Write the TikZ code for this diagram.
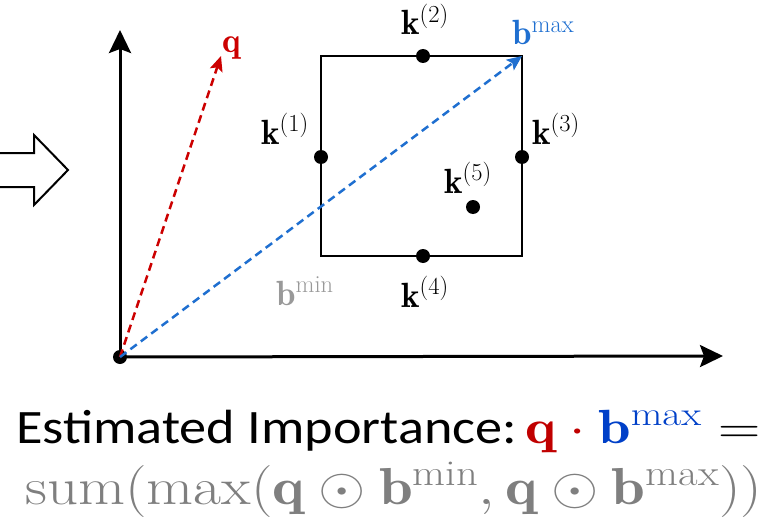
\RequirePackage{fix-cm}
\documentclass[tikz,border=0pt]{standalone}
\usepackage{fontspec}
\usepackage{graphicx}
\newfontfamily\calibri{Carlito}
\usetikzlibrary{arrows.meta}
\definecolor{qred}{HTML}{CC0000}
\definecolor{bblue}{HTML}{1F6FD0}
\definecolor{tblue}{HTML}{0040C8}
\definecolor{tred}{HTML}{C00000}
\definecolor{lgray}{HTML}{999999}
\definecolor{tgray}{HTML}{7F7F7F}
\tikzset{
  axis/.style={line width=3pt,-{Stealth[length=23pt,width=22pt,inset=4pt]}},
  vec/.style={line width=2.5pt,dash pattern=on 8pt off 5pt,-{Stealth[length=15pt,width=13pt,inset=3pt]}},
  dot/.style={circle,fill=black,inner sep=0pt,minimum size=14pt},
  lbl/.style={inner sep=0pt,font=\fontsize{35}{42}\selectfont},
  bigtext/.style={inner sep=0pt},
}
\begin{document}
\begin{tikzpicture}[x=1pt,y=-1pt]
\useasboundingbox (0,0) rectangle (766,519);
% block arrow
\draw[line width=2pt,fill=white] (-5,153) -- (34,153) -- (34,135) -- (68,170) -- (34,205) -- (34,187) -- (-5,187) -- cycle;
% axes
\node[dot] (O) at (120,357) {};
\coordinate (yend) at (120,30);
\coordinate (xend) at (723,356);
\draw[axis] (O.center) -- (yend);
\draw[axis] (O.center) -- (xend);
% box
\coordinate (bmin) at (321,256);
\coordinate (bmax) at (522,56);
\draw[line width=2.5pt] (bmin) rectangle (bmax);
\node[dot] (k1) at (321,157) {};
\node[dot] (k2) at (423,56) {};
\node[dot] (k3) at (522,157) {};
\node[dot] (k4) at (423,256) {};
\node[dot] (k5) at (473,207) {};
% vectors
\coordinate (qtip) at (221,56);
\draw[vec,qred] (O.center) -- (qtip);
\draw[vec,bblue] (O.center) -- (bmax);
% labels
\node[lbl,anchor=base west] (lk1) at (261,144) {$\mathbf{k}^{(1)}$};
\node[lbl,anchor=base west] (lk2) at (401,35) {$\mathbf{k}^{(2)}$};
\node[lbl,anchor=base west] (lk3) at (532,144) {$\mathbf{k}^{(3)}$};
\node[lbl,anchor=base west] (lk4) at (401,307) {$\mathbf{k}^{(4)}$};
\node[lbl,anchor=base west] (lk5) at (444,193) {$\mathbf{k}^{(5)}$};
\node[lbl,anchor=base west,text=lgray] (lbmin) at (276,305) {$\mathbf{b}^{\mathrm{min}}$};
\node[lbl,anchor=base west,text=bblue] (lbmax) at (512,45) {$\mathbf{b}^{\mathrm{max}}$};
\node[lbl,anchor=base west,text=qred] (lq) at (222,53) {$\mathbf{q}$};
% bottom text
\node[bigtext,anchor=base west] (t1) at (16,443)
  {\fontsize{48}{54}\selectfont\scalebox{1.13}[1]{\calibri Estimated Importance:}\hspace{8pt}\scalebox{1.22}[1]{$\color{tred}\mathbf{q}\cdot\color{tblue}\mathbf{b}^{\mathrm{max}}\color{black}=$}};
\node[bigtext,anchor=base west,text=tgray] (t2) at (25,504)
  {\scalebox{1.17}[1]{\fontsize{52}{58}\selectfont$\mathrm{sum}(\mathrm{max}(\mathbf{q}\odot\mathbf{b}^{\mathrm{min}},\mathbf{q}\odot\mathbf{b}^{\mathrm{max}}))$}};
\end{tikzpicture}
\end{document}
